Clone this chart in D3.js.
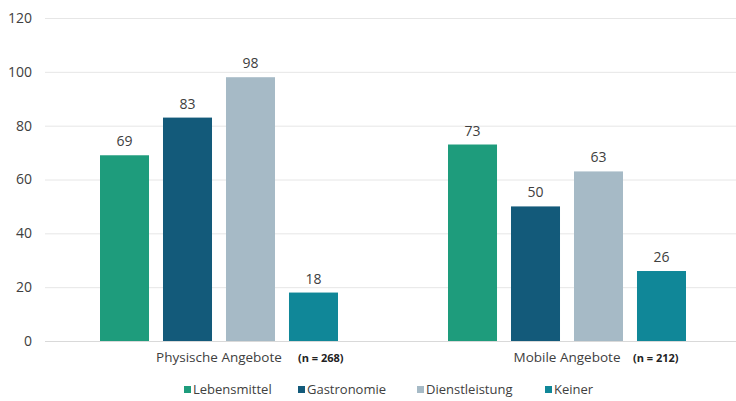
<!DOCTYPE html>
<html>
<head>
<meta charset="utf-8">
<script src="https://cdn.jsdelivr.net/npm/d3@7"></script>
<style>
  body { margin: 0; background: #fff; }
  text { font-family: 'Open Sans', sans-serif; }
</style>
</head>
<body>
<div class="chart"></div>
<script>
'use strict';

// Data
const categories = ['Physische Angebote', 'Mobile Angebote'];
const sampleSizes = ['(n = 268)', '(n = 212)'];
const seriesNames = ['Lebensmittel', 'Gastronomie', 'Dienstleistung', 'Keiner'];
const lebensmittel = [69, 73];
const gastronomie = [83, 50];
const dienstleistung = [98, 63];
const keiner = [18, 26];
const yTicks = [0, 20, 40, 60, 80, 100, 120];

const seriesValues = [lebensmittel, gastronomie, dienstleistung, keiner];
const colors = ['#1e9c7c', '#135a7a', '#a6bac6', '#108798'];

// Initialize
const w = 736;
const h = 401;
const padLeft = 45;
const padTop = 18;
const baseY = 341;
const groupW = 238;
const textColor = '#404040';

const svg = d3.select('.chart')
              .append('svg')
              .attr('width', w)
              .attr('height', h);

// Scales
const x0 = d3.scaleBand()
             .domain(categories)
             .range([padLeft, padLeft + 696]);

const x1 = d3.scaleBand()
             .domain(seriesNames)
             .range([0, groupW])
             .paddingInner(0.222);

const y = d3.scaleLinear()
            .domain([0, 120])
            .range([baseY, padTop]);

// Gridlines
svg.append('g')
  .selectAll('line')
  .data(yTicks)
  .enter()
  .append('line')
  .attr('x1', padLeft)
  .attr('x2', w)
  .attr('y1', d => y(d) + 0.5)
  .attr('y2', d => y(d) + 0.5)
  .attr('stroke', d => d === 0 ? '#d9d9d9' : '#e6e6e6')
  .attr('stroke-width', 1);

// Y axis labels
const yAxis = d3.axisLeft(y).tickValues(yTicks).tickSize(0).tickPadding(0);
const yg = svg.append('g')
  .attr('transform', `translate(32, 0)`)
  .call(yAxis);
yg.select('.domain').remove();
yg.selectAll('text')
  .attr('fill', textColor)
  .style('font-size', '14px')
  .style('font-family', "'Open Sans', sans-serif");

// Bars
const groups = svg.selectAll('.group')
  .data(categories)
  .enter()
  .append('g')
  .attr('class', 'group')
  .attr('transform', d => `translate(${x0(d) + x0.bandwidth() / 2 - groupW / 2}, 0)`);

groups.selectAll('rect')
  .data((c, ci) => seriesNames.map((s, si) => ({ s, si, v: seriesValues[si][ci] })))
  .enter()
  .append('rect')
  .attr('x', d => x1(d.s))
  .attr('y', d => y(d.v))
  .attr('width', x1.bandwidth())
  .attr('height', d => baseY - y(d.v))
  .attr('fill', d => colors[d.si]);

groups.selectAll('.val')
  .data((c, ci) => seriesNames.map((s, si) => ({ s, si, v: seriesValues[si][ci] })))
  .enter()
  .append('text')
  .attr('class', 'val')
  .attr('x', d => x1(d.s) + x1.bandwidth() / 2)
  .attr('y', d => y(d.v) - 9)
  .attr('text-anchor', 'middle')
  .attr('fill', textColor)
  .style('font-size', '14px')
  .text(d => d.v);

// Category labels
svg.selectAll('.cat')
  .data(categories)
  .enter()
  .append('text')
  .attr('class', 'cat')
  .attr('x', d => x0(d) + x0.bandwidth() / 2)
  .attr('y', 362)
  .attr('text-anchor', 'middle')
  .attr('fill', textColor)
  .style('font-size', '13.5px')
  .text(d => d);

svg.selectAll('.n')
  .data(sampleSizes)
  .enter()
  .append('text')
  .attr('class', 'n')
  .attr('x', (d, i) => x0(categories[i]) + x0.bandwidth() / 2 + (i === 0 ? 79 : 66))
  .attr('y', 362)
  .attr('fill', '#222')
  .style('font-size', '11px')
  .style('font-weight', 'bold')
  .text(d => d);

// Legend
const legendX = [184, 298, 417, 545];
const legend = svg.selectAll('.legend')
  .data(seriesNames)
  .enter()
  .append('g')
  .attr('class', 'legend')
  .attr('transform', (d, i) => `translate(${legendX[i]}, 387)`);

legend.append('rect')
  .attr('x', 0)
  .attr('y', -1)
  .attr('width', 7)
  .attr('height', 7)
  .attr('fill', (d, i) => colors[i]);

legend.append('text')
  .attr('x', 9)
  .attr('y', 7)
  .attr('fill', textColor)
  .style('font-size', '13px')
  .text(d => d);
</script>
</body>
</html>
